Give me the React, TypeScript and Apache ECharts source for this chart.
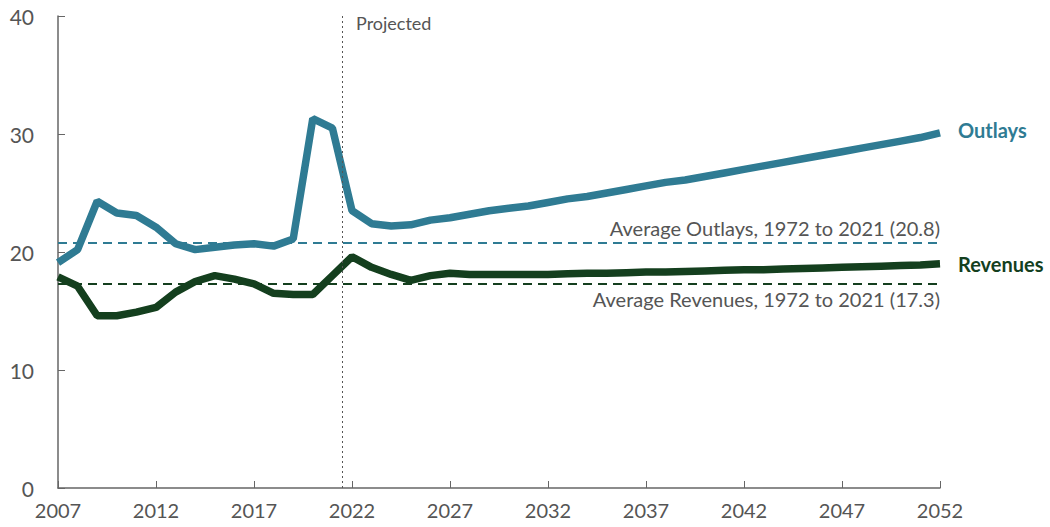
import React, { useEffect, useRef } from "react";
import * as echarts from "echarts";

const years: number[] = [];
for (let y = 2007; y <= 2052; y++) years.push(y);

const outlays = [
  19.1, 20.2, 24.3, 23.3, 23.1, 22.1, 20.7, 20.2, 20.4, 20.6, 20.7, 20.5, 21.1, 31.3, 30.5,
  23.5, 22.4, 22.2, 22.3, 22.7, 22.9, 23.2, 23.5, 23.7, 23.9, 24.2, 24.5, 24.7, 25.0, 25.3,
  25.6, 25.9, 26.1, 26.4, 26.7, 27.0, 27.3, 27.6, 27.9, 28.2, 28.5, 28.8, 29.1, 29.4, 29.7, 30.1,
];

const revenues = [
  17.9, 17.1, 14.6, 14.6, 14.9, 15.3, 16.6, 17.5, 18.0, 17.7, 17.3, 16.5, 16.4, 16.4, 18.0,
  19.6, 18.7, 18.1, 17.6, 18.0, 18.2, 18.1, 18.1, 18.1, 18.1, 18.1, 18.15, 18.2, 18.2, 18.25,
  18.3, 18.3, 18.35, 18.4, 18.45, 18.5, 18.5, 18.55, 18.6, 18.65, 18.7, 18.75, 18.8, 18.85, 18.9, 19.0,
];

const avgOutlays = 20.8;
const avgRevenues = 17.3;
const projectedYear = 2021.5;

const BLUE = "#2F7B93";
const GREEN = "#143F1E";
const GRAY = "#555555";
const FONT = "Lato, 'Noto Sans', sans-serif";

export default function App() {
  const ref = useRef<HTMLDivElement>(null);
  useEffect(() => {
    document.body.style.margin = "0";
    const chart = echarts.init(ref.current!, null, { renderer: "svg" });
    chart.setOption({
      animation: false,
      textStyle: { fontFamily: FONT },
      grid: { left: 58, right: 110, top: 16, bottom: 39, containLabel: false },
      xAxis: {
        type: "value",
        min: 2007,
        max: 2052,
        interval: 5,
        axisLine: { show: true, lineStyle: { color: "#666", width: 1.5 } },
        axisTick: { show: true, inside: true, length: 7, lineStyle: { color: "#666" } },
        axisLabel: {
          color: GRAY,
          fontSize: 20,
          margin: 12,
          fontFamily: FONT,
          formatter: (v: number) => String(v),
        },
        splitLine: { show: false },
      },
      yAxis: {
        type: "value",
        min: 0,
        max: 40,
        interval: 10,
        axisLine: { show: true, lineStyle: { color: "#666", width: 1.5 } },
        axisTick: { show: true, inside: true, length: 7, lineStyle: { color: "#666" } },
        axisLabel: { color: GRAY, fontSize: 21, margin: 24, fontFamily: FONT },
        splitLine: { show: false },
      },
      graphic: [
        {
          type: "text",
          left: 356,
          top: 14,
          style: { text: "Projected", fill: GRAY, fontSize: 18, fontFamily: FONT },
        },
      ],
      series: [
        {
          name: "Outlays",
          type: "line",
          data: years.map((y, i) => [y, outlays[i]]),
          symbol: "none",
          lineStyle: { color: BLUE, width: 7.5 },
          itemStyle: { color: BLUE },
          endLabel: {
            show: true,
            formatter: "Outlays",
            color: BLUE,
            fontWeight: "bold",
            fontSize: 20,
            distance: 18,
            offset: [0, -3],
            fontFamily: FONT,
          },
          markLine: {
            silent: true,
            symbol: "none",
            data: [
              {
                yAxis: avgOutlays,
                lineStyle: { color: BLUE, type: [9, 6], width: 2 },
                label: {
                  show: true,
                  position: "insideEndTop",
                  formatter: "Average Outlays, 1972 to 2021 (20.8)",
                  color: GRAY,
                  fontSize: 20,
                  distance: [0, 5],
                  fontFamily: FONT,
                },
              },
              {
                xAxis: projectedYear,
                lineStyle: { color: GRAY, type: [2, 3], width: 1 },
                label: { show: false },
              },
            ],
          },
        },
        {
          name: "Revenues",
          type: "line",
          data: years.map((y, i) => [y, revenues[i]]),
          symbol: "none",
          lineStyle: { color: GREEN, width: 7.5 },
          itemStyle: { color: GREEN },
          endLabel: {
            show: true,
            formatter: "Revenues",
            color: GREEN,
            fontWeight: "bold",
            fontSize: 20,
            distance: 18,
            fontFamily: FONT,
          },
          markLine: {
            silent: true,
            symbol: "none",
            data: [
              {
                yAxis: avgRevenues,
                lineStyle: { color: GREEN, type: [9, 6], width: 2 },
                label: {
                  show: true,
                  position: "insideEndBottom",
                  formatter: "Average Revenues, 1972 to 2021 (17.3)",
                  color: GRAY,
                  fontSize: 20,
                  distance: [0, 5],
                  fontFamily: FONT,
                },
              },
            ],
          },
        },
      ],
    });
    return () => chart.dispose();
  }, []);
  return <div ref={ref} style={{ width: 1050, height: 527 }} />;
}
